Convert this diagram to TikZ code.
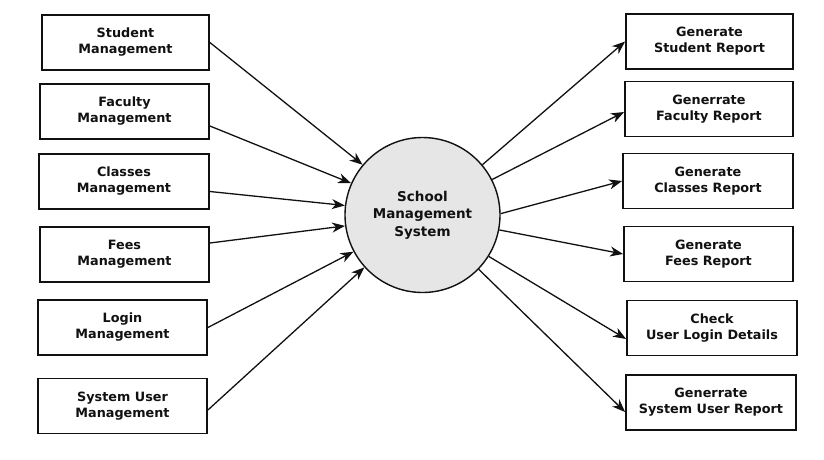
\documentclass[tikz,border=0pt]{standalone}
\usepackage{fontspec}
\setmainfont{DejaVu Sans}
\usetikzlibrary{arrows.meta}
\definecolor{circfill}{HTML}{E6E6E6}
\definecolor{ink}{HTML}{111111}
\tikzset{
  boxnode/.style={draw=ink, line width=1.8pt, minimum width=167pt, minimum height=55pt,
    inner sep=0pt, align=center, font=\bfseries\fontsize{12.8}{16}\selectfont, text=ink},
  hub/.style={circle, draw=ink, line width=1.4pt, fill=circfill, minimum size=155pt,
    inner sep=0pt, align=center, font=\bfseries\fontsize{13.5}{17.5}\selectfont, text=ink},
  flow/.style={draw=ink, line width=1.3pt, -{Stealth[length=13pt,width=10pt,inset=4pt]}}
}
\begin{document}
\begin{tikzpicture}[x=1pt,y=-1pt]
\useasboundingbox (0,0) rectangle (824,459);
\fill[white] (0,0) rectangle (824,459);

\node[hub] (C) at (422.5,215) {School\\Management\\System};

\node[boxnode] (L1) at (125.5,42.5) {Student\\Management};
\node[boxnode, minimum width=169pt] (L2) at (124.5,111.5) {Faculty\\Management};
\node[boxnode, minimum width=170pt] (L3) at (124,181.5) {Classes\\Management};
\node[boxnode, minimum width=169pt] (L4) at (124.5,254.5) {Fees\\Management};
\node[boxnode, minimum width=169pt] (L5) at (122.5,327.5) {Login\\Management};
\node[boxnode, minimum width=169pt] (L6) at (122.5,406) {System User\\Management};

\node[boxnode] (R1) at (709.5,41.5) {Generate\\Student Report};
\node[boxnode, minimum width=168pt] (R2) at (709,109) {Generrate\\Faculty Report};
\node[boxnode, minimum width=170pt] (R3) at (708,181) {Generate\\Classes Report};
\node[boxnode, minimum width=169pt] (R4) at (708.5,254) {Generate\\Fees Report};
\node[boxnode, minimum width=170pt] (R5) at (712,328) {Check\\User Login Details};
\node[boxnode, minimum width=170pt] (R6) at (711,402.5) {Generrate\\System User Report};

\draw[flow] (L1.east) -- (C.140.5);
\draw[flow] ([yshift=-14.5pt]L2.east) -- (C.156.5);
\draw[flow] ([yshift=-10pt]L3.east) -- (C.173);
\draw[flow] ([yshift=11.5pt]L4.east) -- (C.188);
\draw[flow] (L5.east) -- (C.208);
\draw[flow] ([yshift=-4pt]L6.east) -- (C.222);

\draw[flow] (C.40.6) -- (R1.west);
\draw[flow] (C.27.7) -- ([yshift=-3pt]R2.west);
\draw[flow] (C.1.4) -- (R3.west);
\draw[flow] (C.-11.5) -- (R4.west);
\draw[flow] (C.-32) -- ([yshift=-11pt]R5.west);
\draw[flow] (C.-44.7) -- ([yshift=-9.5pt]R6.west);
\end{tikzpicture}
\end{document}
